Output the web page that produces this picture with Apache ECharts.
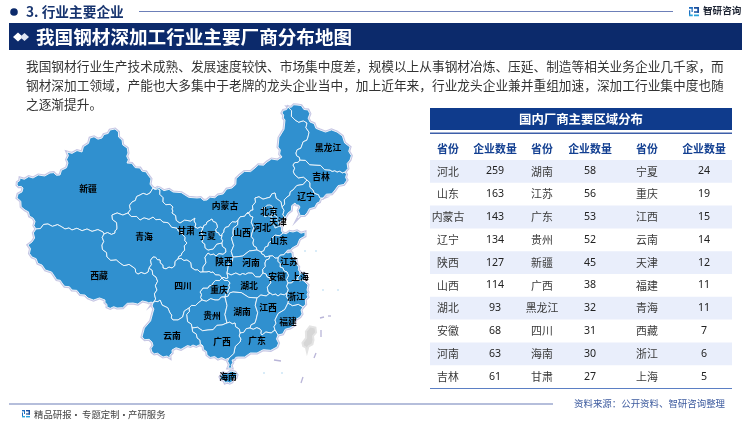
<!DOCTYPE html>
<html lang="zh-CN" style="height: 100%">
<head>
    <meta charset="utf-8">
    <script type="text/javascript" src="https://fastly.jsdelivr.net/npm/echarts@6/dist/echarts.min.js"></script>
</head>
<body style="height: 100%; margin: 0; background: #fff">
<div id="container" style="width: 750px; height: 421px"></div>
<script type="text/javascript">
    // 表格数据
    var provinces1 = ['河北', '山东', '内蒙古', '辽宁', '陕西', '山西', '湖北', '安徽', '河南', '吉林'];
    var counts1 = [259, 163, 143, 134, 127, 114, 93, 68, 63, 61];
    var provinces2 = ['湖南', '江苏', '广东', '贵州', '新疆', '广西', '黑龙江', '四川', '海南', '甘肃'];
    var counts2 = [58, 56, 53, 52, 45, 38, 32, 31, 30, 27];
    var provinces3 = ['宁夏', '重庆', '江西', '云南', '天津', '福建', '青海', '西藏', '浙江', '上海'];
    var counts3 = [24, 19, 15, 14, 12, 11, 11, 7, 6, 5];

    var headTitle = '3. 行业主要企业';
    var bannerTitle = '我国钢材深加工行业主要厂商分布地图';
    // \uff0c 全角逗号 \uff1a 全角冒号
    var bodyLines = [
        '我国钢材行业生产技术成熟、发展速度较快、市场集中度差\uff0c规模以上从事钢材冶炼、压延、制造等相关业务企业几千家\uff0c而',
        '钢材深加工领域\uff0c产能也大多集中于老牌的龙头企业当中\uff0c加上近年来\uff0c行业龙头企业兼并重组加速\uff0c深加工行业集中度也随',
        '之逐渐提升。'
    ];
    var sourceText = '资料来源\uff1a公开资料、智研咨询整理';

    // 省界轮廓,手工描的简化底图(平面坐标),cp 是省名位置
    var outlines = {
        '新疆': {cp: [88, 189], ring: [[153,188],[148,175],[140,168],[127,163],[128,153],[122,140],[115,129],[110,130],[102,138],[90,138],[82,152],[67,152],[68,163],[60,175],[50,173],[33,178],[20,178],[17,185],[23,188],[17,198],[25,210],[33,218],[36,229],[48,224],[62,227],[72,230],[87,229],[103,232],[104,234],[115,233],[117,227],[112,215],[128,213],[132,202],[140,195],[150,193]]},
        '西藏': {cp: [99, 276], ring: [[36,229],[32,242],[28,245],[32,257],[42,265],[55,277],[62,283],[72,290],[85,295],[88,298],[105,300],[107,307],[117,308],[133,303],[147,302],[153,303],[157,290],[156,277],[149,268],[148,272],[138,274],[133,267],[120,263],[107,257],[102,245],[104,234],[103,232],[87,229],[72,230],[62,227],[48,224]]},
        '青海': {cp: [144, 237], ring: [[104,234],[115,233],[117,227],[112,215],[128,213],[140,220],[153,217],[163,222],[177,228],[183,235],[187,243],[182,253],[178,259],[172,268],[163,268],[160,260],[153,257],[149,268],[148,272],[138,274],[133,267],[120,263],[107,257],[102,245]]},
        '甘肃': {cp: [186, 231], ring: [[153,188],[160,190],[163,202],[173,207],[172,213],[180,223],[195,218],[195,227],[203,228],[202,242],[208,250],[222,243],[226,252],[216,256],[208,253],[203,267],[203,272],[195,270],[187,260],[178,259],[182,253],[187,243],[183,235],[177,228],[163,222],[153,217],[140,220],[128,213],[132,202],[140,195],[150,193]]},
        '内蒙古': {cp: [225, 206], ring: [[153,188],[160,188],[173,192],[197,198],[207,200],[218,195],[232,188],[240,175],[255,168],[267,162],[282,157],[278,147],[285,120],[282,113],[288,107],[295,120],[307,123],[308,137],[302,145],[296,153],[300,160],[293,165],[295,175],[307,180],[293,190],[287,197],[282,207],[275,193],[267,198],[255,198],[253,210],[247,213],[238,220],[230,224],[224,230],[222,236],[216,232],[217,225],[212,219],[207,222],[203,228],[195,227],[195,218],[180,223],[172,213],[173,207],[163,202],[160,190]]},
        '宁夏': {cp: [207, 236], ring: [[203,228],[207,222],[212,219],[217,225],[216,232],[222,236],[222,243],[208,250],[202,242]]},
        '陕西': {cp: [224, 262], ring: [[222,236],[224,230],[230,224],[238,220],[233,233],[232,240],[233,257],[228,268],[227,273],[228,278],[222,278],[213,272],[207,272],[203,272],[203,267],[208,253],[216,256],[226,252],[222,243]]},
        '山西': {cp: [242, 233], ring: [[247,213],[253,217],[252,233],[253,243],[257,250],[235,257],[233,257],[232,240],[233,233],[238,220]]},
        '河北': {cp: [262, 228], ring: [[247,213],[253,210],[255,198],[267,198],[275,193],[282,207],[285,218],[280,222],[280,226],[283,233],[272,238],[268,246],[261,252],[257,250],[253,243],[252,233],[253,217]]},
        '北京': {cp: [269, 212], ring: [[262,208],[270,205],[275,210],[273,215],[265,217]]},
        '天津': {cp: [278, 222], ring: [[271,215],[276,216],[278,222],[280,226],[275,228],[272,222]]},
        '辽宁': {cp: [306, 197], ring: [[307,180],[313,190],[320,198],[323,198],[317,203],[307,213],[298,218],[300,207],[295,203],[288,213],[285,218],[282,207],[287,197],[293,190]]},
        '吉林': {cp: [321, 177], ring: [[300,160],[315,165],[330,170],[337,172],[345,172],[347,180],[335,190],[323,198],[320,198],[313,190],[307,180],[295,175],[293,165]]},
        '黑龙江': {cp: [328, 148], ring: [[288,107],[297,105],[308,110],[310,122],[320,130],[337,132],[350,147],[350,160],[345,172],[337,172],[330,170],[315,165],[300,160],[296,153],[302,145],[308,137],[307,123],[295,120]]},
        '山东': {cp: [279, 241], ring: [[261,252],[268,246],[272,238],[283,233],[293,232],[305,232],[305,236],[292,248],[286,252],[278,258],[270,256],[265,257]]},
        '河南': {cp: [251, 263], ring: [[233,257],[235,257],[257,250],[261,252],[265,257],[270,256],[265,263],[263,273],[260,277],[248,273],[240,275],[227,273],[228,268]]},
        '江苏': {cp: [289, 262], ring: [[278,258],[286,252],[292,253],[297,265],[300,272],[298,280],[288,283],[287,272],[280,267]]},
        '安徽': {cp: [277, 277], ring: [[270,256],[278,258],[280,267],[287,272],[288,283],[287,293],[278,296],[270,293],[268,292],[270,278],[263,273],[265,263]]},
        '上海': {cp: [300, 277], ring: [[300,272],[306,275],[304,281],[298,280]]},
        '湖北': {cp: [249, 286], ring: [[227,273],[240,275],[248,273],[260,277],[263,273],[270,278],[268,292],[270,293],[257,298],[233,292],[225,297],[228,290],[230,283],[222,278],[228,278]]},
        '重庆': {cp: [219, 290], ring: [[222,278],[230,283],[228,290],[225,297],[215,300],[202,300],[200,292],[203,288],[208,288],[213,283]]},
        '四川': {cp: [183, 286], ring: [[149,268],[153,257],[160,260],[163,268],[172,268],[178,259],[187,260],[195,270],[203,272],[207,272],[213,272],[222,278],[213,283],[208,288],[203,288],[200,292],[202,300],[198,303],[189,308],[178,320],[173,320],[170,313],[160,300],[153,303],[157,290],[156,277]]},
        '贵州': {cp: [212, 316], ring: [[202,300],[215,300],[225,297],[227,323],[222,325],[208,330],[192,328],[187,318],[189,308],[198,303]]},
        '湖南': {cp: [242, 312], ring: [[225,297],[233,292],[257,298],[256,320],[250,328],[240,333],[235,323],[227,323]]},
        '江西': {cp: [268, 308], ring: [[257,298],[270,293],[278,296],[287,293],[288,303],[275,320],[275,330],[262,335],[260,329],[250,328],[256,320]]},
        '福建': {cp: [288, 322], ring: [[288,303],[303,307],[300,317],[290,328],[278,335],[275,330],[275,320]]},
        '浙江': {cp: [296, 297], ring: [[288,283],[298,280],[304,281],[308,285],[307,290],[308,297],[303,307],[288,303],[287,293]]},
        '广东': {cp: [257, 341], ring: [[240,333],[250,328],[260,329],[262,335],[275,330],[278,335],[277,347],[257,353],[238,357],[232,360],[232,368],[228,368],[229,358],[240,342]]},
        '广西': {cp: [222, 342], ring: [[192,328],[208,330],[222,325],[227,323],[235,323],[240,333],[240,342],[229,358],[218,359],[207,355],[203,346],[197,338]]},
        '云南': {cp: [172, 336], ring: [[153,303],[160,300],[170,313],[173,320],[178,320],[189,308],[187,318],[192,328],[197,338],[203,346],[193,345],[185,347],[172,350],[170,358],[160,355],[152,352],[152,342],[142,337],[153,312]]},
        '海南': {cp: [228, 377], ring: [[220,377],[223,373],[235,372],[237,375],[232,382],[225,383]]},
        '台湾': {cp: [309, 338], ring: [[303,343],[310,327],[315,328],[313,340],[307,350]]}
    };

    // 长边加一点折线,让省界不那么直;两省共用的边算出来是一样的
    function roughen(ring) {
        var out = [];
        for (var i = 0; i < ring.length; i++) {
            var a = ring[i], b = ring[(i + 1) % ring.length];
            out.push(a);
            var len = Math.sqrt((a[0] - b[0]) * (a[0] - b[0]) + (a[1] - b[1]) * (a[1] - b[1]));
            if (len < 6) continue;
            var flip = a[0] > b[0] || (a[0] === b[0] && a[1] > b[1]);
            var p = flip ? b : a, q = flip ? a : b;
            var amp = Math.min(1.4, len * 0.1) * (((p[0] * 7 + p[1] * 3 + q[0] + q[1] * 5) % 2) ? 1 : -1);
            var nx = -(q[1] - p[1]) / len * amp, ny = (q[0] - p[0]) / len * amp;
            var m1 = [p[0] + (q[0] - p[0]) / 3 + nx, p[1] + (q[1] - p[1]) / 3 + ny];
            var m2 = [p[0] + (q[0] - p[0]) * 2 / 3 - nx, p[1] + (q[1] - p[1]) * 2 / 3 - ny];
            if (flip) { out.push(m2, m1); } else { out.push(m1, m2); }
        }
        return out;
    }

    var features = [];
    var minX = 9999, minY = 9999, maxX = 0, maxY = 0;
    for (var name in outlines) {
        var ring = roughen(outlines[name].ring);
        for (var i = 0; i < ring.length; i++) {
            minX = Math.min(minX, ring[i][0]);
            maxX = Math.max(maxX, ring[i][0]);
            minY = Math.min(minY, ring[i][1]);
            maxY = Math.max(maxY, ring[i][1]);
        }
        features.push({
            type: 'Feature',
            properties: {name: name, cp: outlines[name].cp},
            geometry: {type: 'Polygon', coordinates: [ring.concat([ring[0]])]}
        });
    }
    var geoJson = {type: 'FeatureCollection', features: features};
    echarts.registerMap('chinaEdge', geoJson);
    echarts.registerMap('chinaFill', geoJson);

    var mapData = [];
    var allNames = provinces1.concat(provinces2, provinces3, ['北京']);
    var allCounts = counts1.concat(counts2, counts3, [0]);
    for (var i = 0; i < allNames.length; i++) {
        mapData.push({name: allNames[i], value: allCounts[i]});
    }
    mapData.push({name: '台湾', value: 0, itemStyle: {areaColor: '#d6d6d6', borderColor: '#e4e4e4'}, label: {show: false}});

    var flat = {
        project: function (p) { return [p[0], p[1]]; },
        unproject: function (p) { return [p[0], p[1]]; }
    };
    function mapSeries(mapName, fill, border, width, showLabel) {
        return {
            type: 'map',
            map: mapName,
            projection: flat,
            left: minX,
            top: minY,
            width: maxX - minX,
            height: maxY - minY,
            silent: true,
            roam: false,
            data: mapData,
            itemStyle: {areaColor: fill, borderColor: border, borderWidth: width},
            label: {
                show: showLabel,
                color: '#000',
                fontSize: 8.8,
                fontFamily: 'Noto Sans CJK SC',
                fontWeight: 'bold'
            }
        };
    }

    // 页面上的固定元素
    var cjk = 'Noto Sans CJK SC';
    var els = [];
    function text(x, y, str, size, color, weight, align) {
        els.push({
            type: 'text', x: x, y: y,
            style: {
                text: str, fontSize: size, fill: color, fontFamily: cjk,
                fontWeight: weight || 'normal', textAlign: align || 'left', textVerticalAlign: 'middle'
            }
        });
    }
    function box(x, y, w, h, color) {
        els.push({type: 'rect', shape: {x: x, y: y, width: w, height: h}, style: {fill: color}});
    }
    function logo(x, y, s) {
        box(x, y, 3 * s, 1.4 * s, '#1f6fc0');
        box(x + 2 * s, y, 1 * s, 4 * s, '#1f6fc0');
        box(x, y + 2.5 * s, 1 * s, 4 * s, '#1f6fc0');
        box(x, y + 6 * s, 3 * s, 1.4 * s, '#29a3dc');
        box(x + 4 * s, y, 4 * s, 1.4 * s, '#1a4f9c');
        box(x + 6.6 * s, y, 1.4 * s, 4.5 * s, '#1a4f9c');
        box(x + 4 * s, y + 3.4 * s, 4 * s, 1.2 * s, '#1a4f9c');
        box(x + 4 * s, y + 6 * s, 4 * s, 1.4 * s, '#29a3dc');
    }

    els.push({type: 'circle', shape: {cx: 14, cy: 12, r: 3.8}, style: {fill: '#0c2a6b'}});
    text(26, 12, headTitle, 13.7, '#17346f', 'bold');
    box(139, 11, 534, 1, '#6c7fb8');
    logo(689, 7, 1.25);
    text(703, 10.5, '智研咨询', 9.6, '#1d2433', 'bold');

    box(9, 23, 733, 27, '#0c2a6b');
    els.push({type: 'polygon', shape: {points: [[13, 37], [18, 32.5], [23, 37], [18, 41.5]]}, style: {fill: '#fff'}});
    els.push({type: 'polygon', shape: {points: [[20, 37], [24.5, 33], [29, 37], [24.5, 41]]}, style: {fill: '#dfe5f3'}});
    text(36, 36.5, bannerTitle, 18.6, '#fff', 'bold');

    text(26, 66.5, bodyLines[0], 12.7, '#333');
    text(26, 85.5, bodyLines[1], 12.7, '#333');
    text(26, 104, bodyLines[2], 12.7, '#333');

    // 南海诸岛那几段短线和小点
    var dashes = [[321, 330, 321, 337], [316, 353, 314, 358], [303, 377, 301, 383], [320, 318, 324, 317], [328, 316, 331, 316], [274, 360, 281, 361]];
    for (var i = 0; i < dashes.length; i++) {
        els.push({type: 'line', shape: {x1: dashes[i][0], y1: dashes[i][1], x2: dashes[i][2], y2: dashes[i][3]}, style: {stroke: '#b9b5d8', lineWidth: 1.3}});
    }
    var dots = [[305, 251], [316, 251], [323, 290], [338, 290], [264, 373], [282, 373]];
    for (var i = 0; i < dots.length; i++) {
        els.push({type: 'circle', shape: {cx: dots[i][0], cy: dots[i][1], r: 0.8}, style: {fill: '#a8d4f0'}});
    }

    // 右侧表格
    box(430, 108, 302, 22, '#0f3b8c');
    box(430, 132.4, 302, 1.6, '#3d5fa9');
    text(581, 119.5, '国内厂商主要区域分布', 12.4, '#fff', 'bold', 'center');

    var colX = [448, 495, 542, 590, 647, 704];
    var rowTop = 160, rowH = 22.8;
    var heads = ['省份', '企业数量', '省份', '企业数量', '省份', '企业数量'];
    for (var c = 0; c < heads.length; c++) {
        text(colX[c], 148.5, heads[c], 10.9, '#123f91', 'bold', 'center');
    }
    var cols = [provinces1, counts1, provinces2, counts2, provinces3, counts3];
    for (var r = 0; r < provinces1.length; r++) {
        if (r % 2 === 0) {
            box(430, rowTop + r * rowH, 302, rowH, '#e9eefb');
        }
    }
    for (var r = 0; r < provinces1.length; r++) {
        var cy = rowTop + (r + 0.5) * rowH;
        for (var c = 0; c < cols.length; c++) {
            if (c % 2 === 0) {
                text(colX[c], cy, cols[c][r], 10.9, '#3a3a3a', 'normal', 'center');
            } else {
                els.push({
                    type: 'text', x: colX[c], y: cy,
                    style: {text: String(cols[c][r]), fontSize: 10.6, fill: '#222', fontFamily: 'Noto Sans', textAlign: 'center', textVerticalAlign: 'middle'}
                });
            }
        }
    }
    box(430, 388, 302, 1, '#5b7fc4');

    // 页脚
    box(9, 403.5, 544, 1, '#6c7fb8');
    text(574, 403, sourceText, 9.45, '#3c5a9e');
    logo(22, 410, 1);
    text(34, 414.5, '精品研报', 9.4, '#444');
    text(76, 414.5, '·', 9.4, '#444', 'normal', 'center');
    text(82, 414.5, '专题定制', 9.4, '#444');
    text(124, 414.5, '·', 9.4, '#444', 'normal', 'center');
    text(128, 414.5, '产研服务', 9.4, '#444');

    var myChart = echarts.init(document.getElementById('container'), null, {renderer: 'canvas'});
    var option = {
        backgroundColor: '#fff',
        animation: false,
        series: [
            mapSeries('chinaEdge', '#c6c6e4', '#c6c6e4', 3, false),
            mapSeries('chinaFill', '#3090cf', '#f4f8fc', 0.9, true)
        ],
        graphic: {elements: els}
    };
    myChart.setOption(option);
</script>
</body>
</html>
